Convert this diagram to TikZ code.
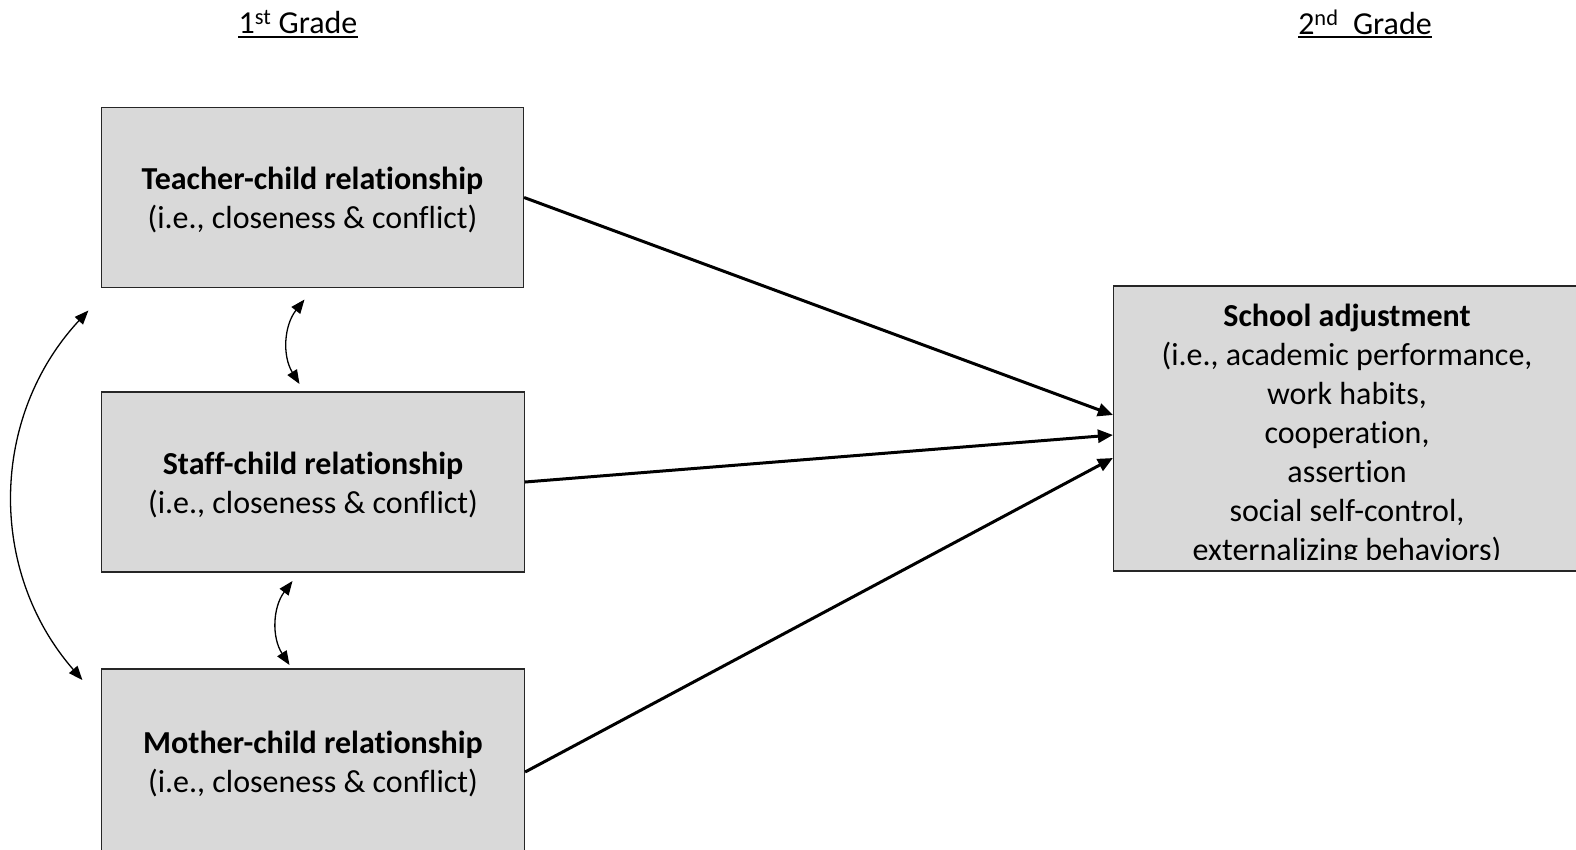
\documentclass[tikz,border=0pt]{standalone}
\usepackage{fontspec}
\setmainfont[Ligatures={NoCommon}]{Carlito}
\usetikzlibrary{arrows.meta}
\definecolor{boxgray}{HTML}{D9D9D9}
\newcommand{\downstrut}{\rule{0pt}{27.5pt}}
\begin{document}
\begin{tikzpicture}[x=1pt,y=-1pt,
  txt/.style={font=\fontsize{32pt}{39pt}\selectfont, align=center, inner sep=0pt},
  box/.style={draw=black!85, fill=boxgray, line width=1.2pt, inner sep=0pt, align=center,
              font=\fontsize{32pt}{39pt}\selectfont},
  path/.style={line width=3pt, -{Triangle[length=15pt,width=13pt]}},
  corr/.style={line width=1.3pt, {Triangle[length=14pt,width=11pt]}-{Triangle[length=14pt,width=11pt]}}
]
\useasboundingbox (0,0) rectangle (1576,849);

% headers
\node[txt] (g1) at (298,22) {1\textsuperscript{st} Grade};
\node[txt] (g2) at (1365,22) {2\textsuperscript{nd}\ \ Grade};
\draw[line width=2pt] (g1.south west |- 0,37) -- (g1.south east |- 0,37);
\draw[line width=2pt] (g2.south west |- 0,37) -- (g2.south east |- 0,37);

% boxes
\node[box, minimum width=422pt, minimum height=180pt] (teacher) at (312.5,197.5)
  {\downstrut\textbf{Teacher-child relationship}\\(i.e., closeness \& conflict)};
\node[box, minimum width=423pt, minimum height=180pt] (staff) at (313,482)
  {\downstrut\textbf{Staff-child relationship}\\(i.e., closeness \& conflict)};
\node[box, minimum width=423pt, minimum height=185pt] (mother) at (313,761.5)
  {\downstrut\textbf{Mother-child relationship}\\(i.e., closeness \& conflict)};
\node[box, minimum width=466.5pt, minimum height=285pt] (school) at (1346.75,428.5) {};
\node[txt] (schooltext) at (1347,435.5)
  {\textbf{School adjustment}\\(i.e., academic performance,\\work habits,\\cooperation,\\assertion\\social self-control,\\externalizing behaviors)};
\fill[boxgray] (1115,559.5) rectangle (1576,569.8);

% paths
\draw[path] (teacher.east) -- ([yshift=13.5pt]school.west);
\draw[path] (staff.east) -- ([yshift=-6.5pt]school.west);
\draw[path] ([yshift=-10.5pt]mother.east) -- ([yshift=-29.5pt]school.west);

% correlations
\coordinate (c1a) at (304.5,299.5);
\coordinate (c1b) at (299.5,384);
\coordinate (c2a) at (292.5,581);
\coordinate (c2b) at (289.5,665);
\coordinate (c3a) at (88.4,310.5);
\coordinate (c3b) at (82.4,680);
\draw[corr] (c1a) to[bend right=35] (c1b);
\draw[corr] (c2a) to[bend right=35] (c2b);
\draw[corr] (c3a) to[bend right=42] (c3b);
\end{tikzpicture}
\end{document}
